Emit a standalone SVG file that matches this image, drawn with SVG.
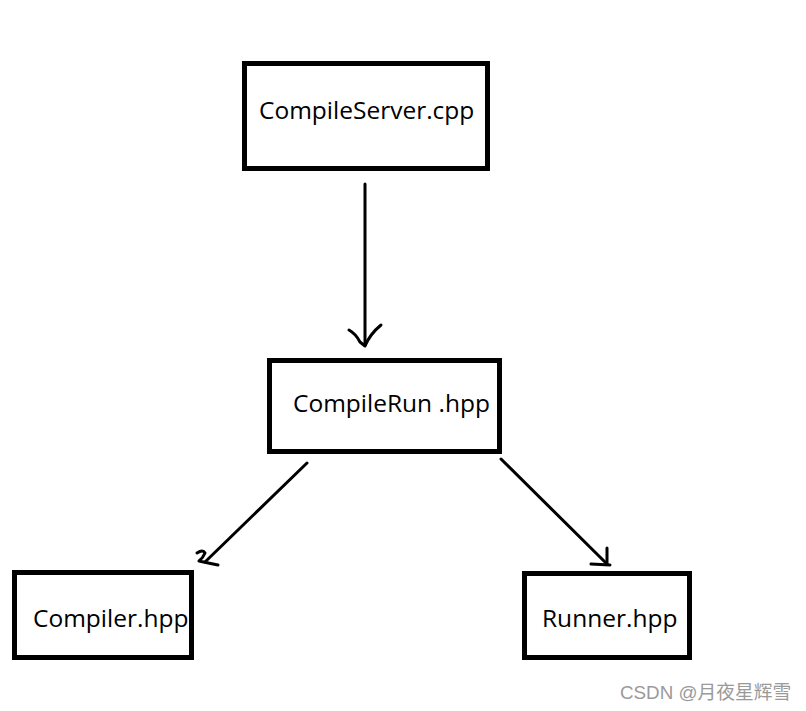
<svg xmlns="http://www.w3.org/2000/svg" width="806" height="711" viewBox="0 0 806 711">
<style>
.box{fill:#fff;stroke:#000;stroke-width:5}
.lbl{font-family:"Open Sans","Noto Sans",sans-serif;font-size:24.5px;fill:#000}
.con{fill:none;stroke:#000;stroke-width:3;stroke-linecap:round;stroke-linejoin:round}
.wm{font-family:"Liberation Sans","Noto Sans CJK SC",sans-serif;font-size:18.8px;fill:#9a9a9a}
</style>
<rect width="806" height="711" fill="#fff"/>
<g id="connectors">
<path class="con" d="M365 184 L365 345"/>
<path class="con" d="M349 330 Q356 334 360 342 L365 346 Q370 334 381 325"/>
<path class="con" d="M307 463 L205 562"/>
<path class="con" d="M197 553 Q203 549 205 553 Q203 558 199 561 Q208 563 218 565"/>
<path class="con" d="M501 459 L606 563"/>
<path class="con" d="M591 564 L610 565 M607 548 L607 565"/>
</g>
<g id="compileserver">
<rect class="box" x="244.5" y="63.5" width="243" height="105"/>
<text class="lbl" x="259" y="119">CompileServer.cpp</text>
</g>
<g id="compilerun">
<rect class="box" x="269.5" y="360.5" width="230" height="91"/>
<text class="lbl" x="293" y="412">CompileRun .hpp</text>
</g>
<g id="compiler">
<rect class="box" x="14.5" y="572.5" width="177" height="85"/>
<text class="lbl" x="33" y="627">Compiler.hpp</text>
</g>
<g id="runner">
<rect class="box" x="524.5" y="573.5" width="165" height="84"/>
<text class="lbl" x="542" y="627">Runner.hpp</text>
</g>
<text class="wm" x="620" y="699">CSDN @月夜星辉雪</text>
</svg>
